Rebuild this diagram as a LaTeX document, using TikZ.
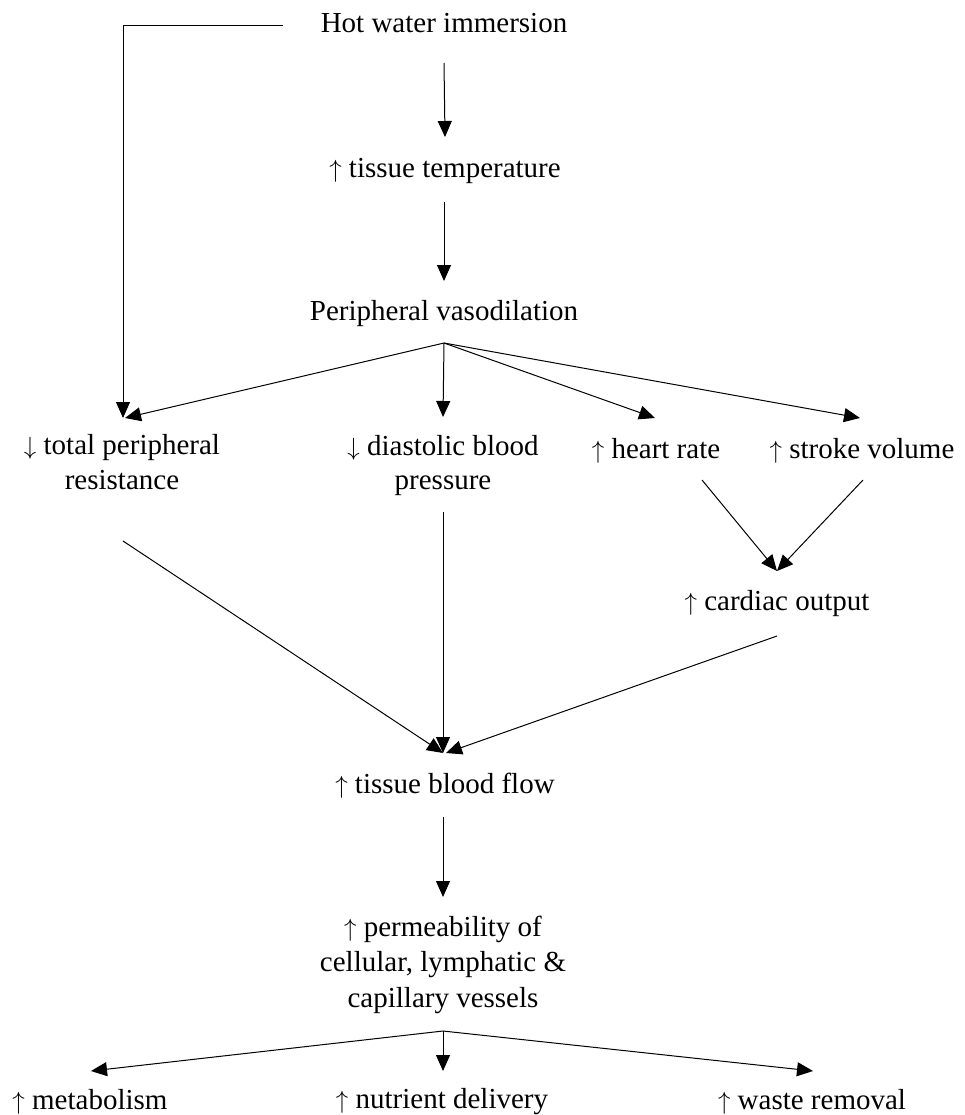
\documentclass[tikz,border=0pt]{standalone}
\usepackage{fontspec}
\setmainfont{Liberation Serif}
\usetikzlibrary{arrows.meta,calc}
\newcommand{\upa}{$\uparrow$}
\newcommand{\dna}{$\downarrow$}
\newcommand{\stt}{\rule[-6pt]{0pt}{34pt}}
\begin{document}
\begin{tikzpicture}[x=1pt,y=-1pt,
  lbl/.style={font=\fontsize{29}{34}\selectfont, inner sep=0pt, align=center},
  arr/.style={-{Triangle[length=16pt,width=14pt]}, line width=1pt}]
\useasboundingbox (0,0) rectangle (964,1115);
% nodes
\node[lbl] (hot)   at (444,22)   {Hot water immersion\stt};
\node[lbl] (temp)  at (445,167)  {\upa{} tissue temperature\stt};
\node[lbl] (vaso)  at (444,310)  {Peripheral vasodilation\stt};
\node[lbl] (tpr)   at (122,461)  {\dna{} total peripheral\stt\\resistance\stt};
\node[lbl] (dbp)   at (443,462)  {\dna{} diastolic blood\stt\\pressure\stt};
\node[lbl] (hr)    at (656,447)  {\upa{} heart rate\stt};
\node[lbl] (sv)    at (862,447)  {\upa{} stroke volume\stt};
\node[lbl] (co)    at (777,600)  {\upa{} cardiac output\stt};
\node[lbl] (flow)  at (445,782)  {\upa{} tissue blood flow\stt};
\node[lbl] (perm)  at (443,961)  {\upa{} permeability of\stt\\cellular, lymphatic \&\stt\\capillary vessels\stt};
\node[lbl] (met)   at (90,1098)  {\upa{} metabolism\stt};
\node[lbl] (nut)   at (442,1098) {\upa{} nutrient delivery\stt};
\node[lbl] (waste) at (812,1098) {\upa{} waste removal\stt};
% fan origins
\coordinate (f1) at ($(vaso.center)+(0,33)$);
\coordinate (f2) at ($(perm.center)+(0,70)$);
% connectors
\draw[arr] ($(hot.center)+(0,41)$) -- ($(temp.center)+(0,-30)$);
\draw[arr] ($(temp.center)+(-1,35)$) -- ($(vaso.center)+(0,-29)$);
\draw[arr] ($(hot.center)+(-161,4)$) -| ($(tpr.center)+(1,-43)$);
\draw[arr] (f1) -- ($(tpr.center)+(3,-43)$);
\draw[arr] (f1) -- ($(dbp.center)+(0,-45)$);
\draw[arr] (f1) -- ($(hr.center)+(-1,-29)$);
\draw[arr] (f1) -- ($(sv.center)+(-2,-29)$);
\draw[arr] ($(hr.center)+(46,33)$) -- ($(co.center)+(0,-29)$);
\draw[arr] ($(sv.center)+(1,33)$) -- ($(co.center)+(0,-29)$);
\draw[arr] ($(tpr.center)+(1,80)$) -- ($(flow.center)+(-2,-29)$);
\draw[arr] ($(dbp.center)+(0,50)$) -- ($(flow.center)+(-2,-29)$);
\draw[arr] ($(co.center)+(0,36)$) -- ($(flow.center)+(1,-29)$);
\draw[arr] ($(flow.center)+(-2,35)$) -- ($(perm.center)+(0,-64)$);
\draw[arr] (f2) -- ($(met.center)+(1,-27)$);
\draw[arr] (f2) -- ($(nut.center)+(1,-27)$);
\draw[arr] (f2) -- ($(waste.center)+(1,-27)$);
\end{tikzpicture}
\end{document}
